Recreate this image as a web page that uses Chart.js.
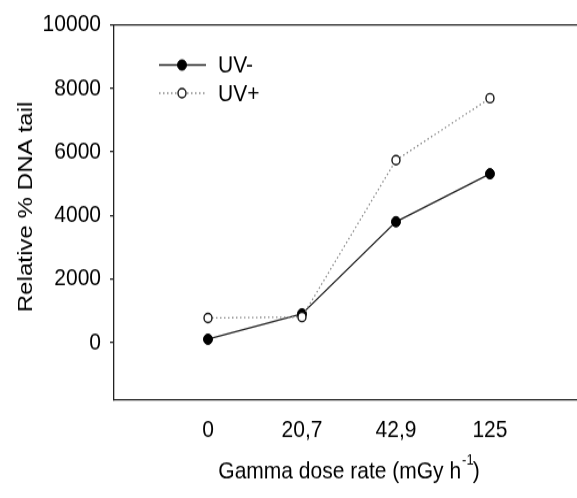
<!DOCTYPE html>
<html>
<head>
<meta charset="utf-8">
<script src="https://cdn.jsdelivr.net/npm/chart.js@4.4.1/dist/chart.umd.min.js"></script>
<style>
html, body { margin: 0; padding: 0; background: #fff; }
body { width: 577px; height: 498px; }
/* the reference is a little taller than wide, so stretch the drawing */
#wrap { width: 577px; height: 433px; transform: scaleY(1.15); transform-origin: 0 0; }
</style>
</head>
<body>
<div id="wrap"><canvas id="chart" width="577" height="433"></canvas></div>
<script>
var doseLabels = ["0", "20,7", "42,9", "125"];
var doseIndex = [0, 1, 2, 3];
var uvMinus = [100, 900, 3800, 5310];
var uvPlus = [770, 800, 5740, 7690];
var yTicks = [0, 2000, 4000, 6000, 8000, 10000];
var seriesNames = ["UV-", "UV+"];

var fontFamily = '"Liberation Sans", Arial, Helvetica, sans-serif';
var ink = "#222";

function toPoints(values){
	return values.map(function(v, i){ return {x: doseIndex[i], y: v}; });
}

/* legend, top frame line and axis titles are drawn by hand */
var extras = {
	id: "extras",
	afterDraw: function(chart){
		var ctx = chart.ctx;
		var area = chart.chartArea;
		ctx.save();

		// top frame line
		ctx.strokeStyle = ink;
		ctx.lineWidth = 1.3;
		ctx.beginPath();
		ctx.moveTo(area.left, area.top);
		ctx.lineTo(chart.width, area.top);
		ctx.stroke();

		// legend
		var rows = [56.5, 81];
		chart.data.datasets.forEach(function(ds, r){
			var y = rows[r];
			ctx.strokeStyle = ds.borderColor;
			ctx.lineWidth = ds.borderWidth;
			ctx.setLineDash(ds.borderDash || []);
			ctx.beginPath();
			ctx.moveTo(159, y);
			ctx.lineTo(206, y);
			ctx.stroke();
			ctx.setLineDash([]);
			ctx.beginPath();
			ctx.arc(182, y, ds.pointRadius, 0, Math.PI * 2);
			ctx.fillStyle = ds.pointBackgroundColor;
			ctx.fill();
			ctx.lineWidth = ds.pointBorderWidth;
			ctx.strokeStyle = ds.pointBorderColor;
			ctx.stroke();
			ctx.fillStyle = "#000";
			ctx.font = "21px " + fontFamily;
			ctx.textAlign = "left";
			ctx.textBaseline = "middle";
			ctx.fillText(ds.label, 218, y + 1);
		});

		// x title with superscript
		var main = "Gamma dose rate (mGy h", sup = "-1", tail = ")";
		ctx.font = "21px " + fontFamily;
		var w1 = ctx.measureText(main).width;
		var w3 = ctx.measureText(tail).width;
		ctx.font = "13px " + fontFamily;
		var w2 = ctx.measureText(sup).width;
		var x0 = 349 - (w1 + w2 + w3) / 2;
		ctx.fillStyle = "#000";
		ctx.textAlign = "left";
		ctx.textBaseline = "alphabetic";
		ctx.font = "21px " + fontFamily;
		ctx.fillText(main, x0, 416);
		ctx.fillText(tail, x0 + w1 + w2, 416);
		ctx.font = "13px " + fontFamily;
		ctx.fillText(sup, x0 + w1 + 1, 404);

		// y title
		ctx.font = "21px " + fontFamily;
		ctx.translate(32, 180);
		ctx.rotate(-Math.PI / 2);
		ctx.textAlign = "center";
		ctx.fillText("Relative % DNA tail", 0, 0);

		ctx.restore();
	}
};

var chart = new Chart(document.getElementById("chart"), {
	type: "line",
	data: {
		datasets: [{
			label: seriesNames[0],
			data: toPoints(uvMinus),
			borderColor: ink,
			borderWidth: 1.3,
			pointRadius: 4.5,
			pointBackgroundColor: "#000",
			pointBorderColor: "#000",
			pointBorderWidth: 1,
			order: 1
		}, {
			label: seriesNames[1],
			data: toPoints(uvPlus),
			borderColor: "#8a8a8a",
			borderWidth: 1.3,
			borderDash: [1.5, 2.5],
			pointRadius: 4,
			pointBackgroundColor: "#fff",
			pointBorderColor: "#111",
			pointBorderWidth: 1.4,
			order: 0
		}]
	},
	options: {
		responsive: false,
		animation: false,
		layout: { padding: {top: 15, left: 0, right: 0, bottom: 0}, autoPadding: false },
		plugins: { legend: {display: false}, tooltip: {enabled: false} },
		scales: {
			x: {
				type: "linear",
				min: -1,
				max: 3.926,
				afterBuildTicks: function(s){ s.ticks = doseIndex.map(function(v){ return {value: v}; }); },
				afterFit: function(s){ s.height = 85; },
				grid: { drawOnChartArea: false, tickLength: 8, color: "rgba(0,0,0,0)" },
				border: { display: true, color: ink, width: 1.3 },
				ticks: {
					padding: 6,
					autoSkip: false,
					maxRotation: 0,
					color: "#000",
					font: {family: fontFamily, size: 21},
					callback: function(v){ return doseLabels[v]; }
				}
			},
			y: {
				min: -1820,
				max: 10000,
				afterBuildTicks: function(s){ s.ticks = yTicks.map(function(v){ return {value: v}; }); },
				afterFit: function(s){ s.width = 114; },
				grid: { drawOnChartArea: false, tickLength: 4, color: ink, lineWidth: 1.3 },
				border: { display: true, color: ink, width: 1.3 },
				ticks: {
					padding: 9,
					color: "#000",
					font: {family: fontFamily, size: 21},
					callback: function(v){ return String(v); }
				}
			}
		}
	},
	plugins: [extras]
});
</script>
</body>
</html>
